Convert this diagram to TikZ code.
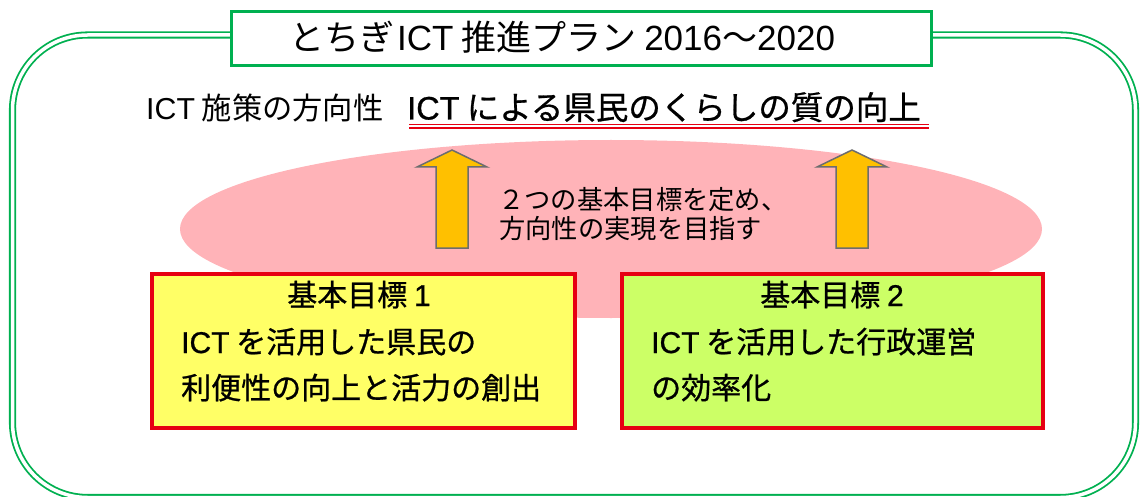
\documentclass[tikz,border=0pt]{standalone}
\usepackage{fontspec}
\setmainfont{Noto Sans CJK JP}
\newfontfamily\jpb[FakeBold=0.8]{Noto Sans CJK JP}
\newfontfamily\lat{Liberation Sans}
\newfontfamily\latb[FakeBold=0.8]{Liberation Sans}
\definecolor{grn}{HTML}{00B050}
\definecolor{redb}{HTML}{E60012}
\definecolor{pinkell}{HTML}{FFB3B8}
\definecolor{yel}{HTML}{FFFF66}
\definecolor{lime}{HTML}{CCFF66}
\definecolor{arrowfill}{HTML}{FFC000}
\definecolor{arrowline}{HTML}{6D6D6D}
\tikzset{
  goalbox/.style={draw=redb, line width=4pt, inner sep=0pt},
  boxtext/.style={font=\fontsize{30}{34}\selectfont\jpb, inner sep=0pt, anchor=base west},
  uparrow/.style={fill=arrowfill, draw=arrowline, line width=1.5pt, line join=miter},
  uline/.style={redb, line width=1.6pt},
}
\newcommand{\UpArrowAt}[1]{%
  \draw[uparrow] (#1,150) -- ++(35,17) -- ++(-19,0) -- ++(0,81) -- ++(-32,0) -- ++(0,-81) -- ++(-19,0) -- cycle;}
\begin{document}
\begin{tikzpicture}[x=1pt,y=-1pt]
\useasboundingbox (0,0) rectangle (1140,497);
% outer frame
\draw[grn, line width=1.8pt, double=white, double distance=3.5pt, rounded corners=75pt] (12.5,35) rectangle (1135.5,497.5);
% title
\node[draw=grn, line width=3pt, fill=white, minimum width=700, minimum height=54, inner sep=0pt] (title) at (581.5,38.5) {};
\node[anchor=base west, font=\fontsize{35}{40}\selectfont, inner sep=0pt] (titletext) at (289,51) {とちぎ\kern3pt{\lat ICT} 推進プラン {\lat 2016}～{\lat 2020}};
% policy line
\node[anchor=base west, font=\fontsize{30.3}{34}\selectfont, inner sep=0pt] (policy) at (146,120) {{\lat ICT} 施策の方向性};
\node[anchor=base west, font=\fontsize{32.5}{36}\selectfont\jpb, inner sep=0pt] (aim) at (407,119.5) {{\latb ICT} による県民のくらしの質の向上};
\draw[uline] (409,124.5) -- (929,124.5);
\draw[uline] (409,128) -- (929,128);
% ellipse
\fill[pinkell] (611,229) ellipse [x radius=431, y radius=89];
% arrows
\UpArrowAt{452}
\UpArrowAt{852}
\node[anchor=base west, font=\fontsize{26.3}{28}\selectfont, inner sep=0pt] (mid1) at (498,210) {２つの基本目標を定め、};
\node[anchor=base west, font=\fontsize{26.3}{28}\selectfont, inner sep=0pt] (mid2) at (499,238) {方向性の実現を目指す};
% goal boxes
\node[goalbox, fill=yel, minimum width=423, minimum height=154] (g1) at (363.5,351) {};
\node[goalbox, fill=lime, minimum width=421, minimum height=154] (g2) at (832.5,351) {};
\node[boxtext, anchor=base] (g1h) at (359,306) {基本目標 {\latb 1}};
\node[boxtext] (g1a) at (181,353) {{\latb ICT} を活用した県民の};
\node[boxtext] (g1b) at (181,399) {利便性の向上と活力の創出};
\node[boxtext, anchor=base] (g2h) at (832,306) {基本目標 {\latb 2}};
\node[boxtext] (g2a) at (651,353) {{\latb ICT} を活用した行政運営};
\node[boxtext] (g2b) at (651,399) {の効率化};
\end{tikzpicture}
\end{document}
